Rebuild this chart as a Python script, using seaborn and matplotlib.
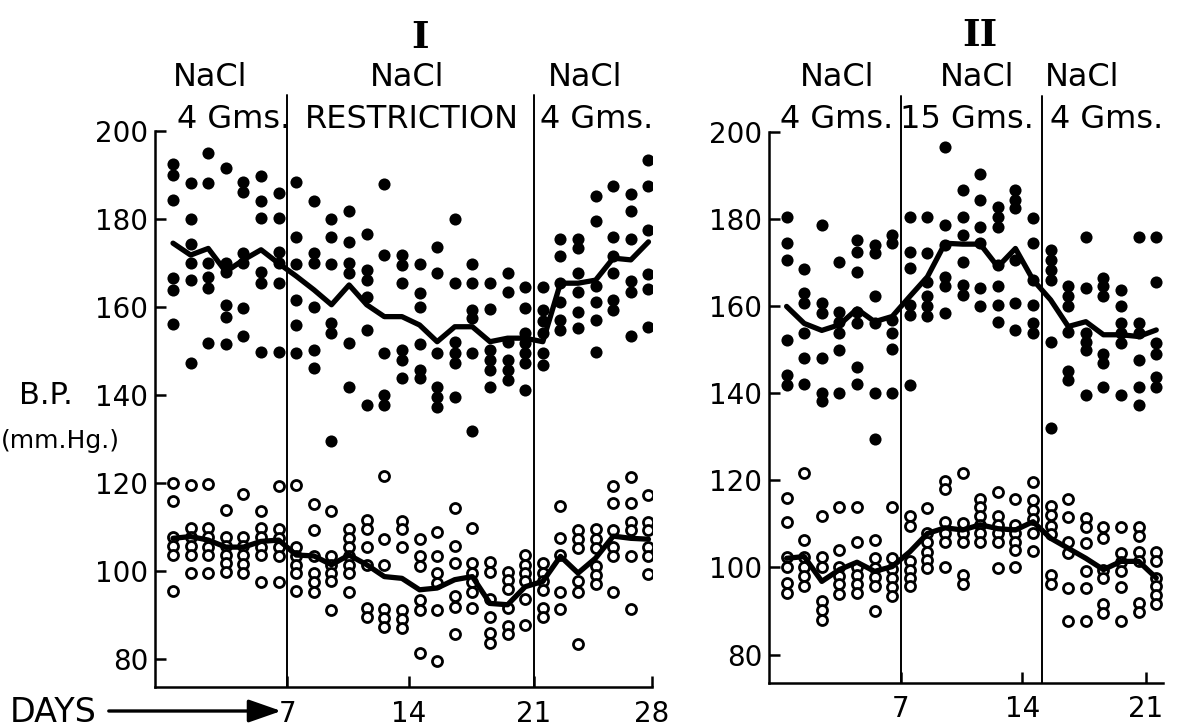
import matplotlib
matplotlib.use("Agg")
import matplotlib.pyplot as plt
import pandas as pd
import seaborn as sns

# ---------------- data (mm Hg, one list per day) ----------------
I_sys = [
    [192.4, 190.0, 184.3, 166.5, 163.9, 156.1],
    [188.1, 180.0, 174.3, 169.9, 166.1, 147.3],
    [194.9, 188.1, 169.9, 166.9, 164.2, 151.9],
    [191.7, 169.9, 168.0, 160.5, 157.8, 151.6],
    [188.5, 186.2, 172.2, 169.9, 159.8, 153.4],
    [189.8, 184.1, 180.2, 168.0, 165.4, 149.7],
    [186.0, 180.2, 172.6, 169.9, 165.5, 149.7],
    [188.3, 176.0, 169.8, 161.6, 155.9, 149.5],
    [184.2, 172.2, 169.9, 159.9, 150.1, 146.1],
    [180.1, 176.0, 169.8, 156.3, 154.0, 129.6],
    [181.9, 174.8, 169.9, 167.7, 151.9, 141.7],
    [176.6, 168.4, 166.1, 162.3, 154.8, 137.7],
    [187.9, 171.8, 149.5, 140.0, 137.7],
    [171.8, 169.5, 165.5, 150.2, 148.0, 143.8],
    [169.8, 163.1, 160.1, 151.6, 145.7, 143.8],
    [173.7, 167.7, 149.5, 141.9, 139.6, 137.3],
    [180.1, 165.5, 152.1, 149.5, 147.2, 139.5],
    [169.8, 165.5, 159.3, 157.4, 149.5, 131.7],
    [165.5, 159.5, 150.2, 148.0, 145.7, 141.9],
    [167.7, 163.5, 152.1, 148.0, 145.7, 143.4],
    [164.5, 159.7, 154.0, 151.7, 149.5, 147.2, 141.1],
    [164.6, 159.3, 156.7, 154.0, 149.5, 146.8],
    [175.4, 171.6, 165.5, 161.2, 157.0, 154.8],
    [175.4, 173.3, 167.7, 163.5, 158.9, 155.2],
    [185.2, 179.6, 164.8, 161.2, 157.0, 149.7],
    [187.5, 176.0, 171.6, 167.7, 161.6, 159.3],
    [185.7, 181.7, 175.5, 165.8, 163.5, 153.3],
    [193.4, 187.5, 177.5, 167.5, 164.0, 155.5],
]
I_sys_mean = [174.5, 171.8, 173.3, 168.0, 170.7, 173.0, 169.9, 167.0, 163.9, 160.5,
              165.0, 160.5, 157.8, 157.8, 155.9, 152.1, 155.5, 155.5, 152.1, 152.9,
              152.9, 152.1, 165.4, 165.4, 166.1, 171.1, 170.7, 174.8]

I_dia = [
    [119.9, 115.9, 107.8, 105.7, 103.6, 95.5],
    [119.5, 109.7, 107.6, 105.7, 103.6, 99.5],
    [119.8, 109.7, 107.6, 105.5, 103.6, 99.5],
    [113.9, 107.6, 105.7, 103.6, 101.7, 99.8],
    [117.5, 107.6, 105.7, 103.6, 101.6, 99.5],
    [113.6, 109.7, 107.6, 105.5, 103.6, 97.4],
    [119.3, 109.5, 107.4, 105.4, 103.3, 97.4],
    [119.5, 105.5, 103.4, 101.4, 99.5, 95.5],
    [115.2, 109.3, 103.4, 99.5, 97.4, 95.3],
    [113.6, 103.4, 101.4, 99.5, 97.6, 91.1],
    [109.5, 107.4, 105.4, 103.3, 101.4, 99.5, 95.3],
    [111.6, 109.5, 105.4, 101.4, 91.5, 89.5],
    [121.6, 107.2, 101.4, 91.3, 89.2, 87.2],
    [111.4, 109.5, 105.4, 91.1, 89.0, 86.9],
    [107.2, 103.3, 101.1, 93.4, 91.1, 81.3],
    [108.9, 103.3, 99.5, 97.2, 91.0, 79.4],
    [114.4, 105.7, 101.7, 94.2, 91.9, 85.6],
    [109.7, 101.7, 99.5, 97.4, 95.3, 91.5],
    [102.1, 99.8, 93.5, 89.6, 85.8, 83.7],
    [99.8, 97.9, 95.8, 91.5, 87.5, 85.6],
    [103.6, 101.4, 99.5, 97.6, 93.6, 87.7],
    [101.7, 99.6, 97.6, 95.7, 91.5, 89.5],
    [114.8, 107.4, 103.6, 95.1, 91.3],
    [109.3, 107.2, 105.2, 97.6, 95.3, 83.4],
    [109.5, 107.2, 105.2, 101.0, 99.1, 97.0],
    [119.2, 115.4, 109.3, 105.5, 103.4, 95.3],
    [121.3, 115.5, 111.2, 109.3, 103.3, 91.3],
    [117.3, 111.2, 109.2, 105.5, 103.3, 99.3],
]
I_dia_mean = [107.4, 107.8, 107.0, 105.4, 105.4, 106.7, 107.0, 103.6, 103.4, 101.4,
              103.6, 101.4, 98.7, 98.3, 95.7, 96.1, 98.0, 98.7, 92.6, 92.3,
              96.4, 97.6, 103.3, 99.5, 102.9, 107.9, 107.4, 107.2]

II_sys = [
    [180.5, 174.4, 170.6, 152.2, 144.2, 141.9],
    [168.4, 162.9, 160.6, 153.7, 148.0, 142.1],
    [178.6, 160.6, 158.3, 148.0, 140.0, 138.1],
    [170.2, 158.7, 156.4, 153.7, 149.9, 140.0],
    [175.2, 172.5, 167.9, 158.7, 156.0, 146.1, 142.1],
    [174.0, 172.1, 162.3, 156.0, 140.0, 129.4],
    [176.3, 174.4, 156.8, 153.7, 150.1, 140.0],
    [180.5, 172.5, 168.7, 160.2, 158.0, 141.9],
    [180.4, 172.1, 165.6, 162.2, 159.9, 157.6],
    [196.6, 178.6, 174.0, 166.7, 164.5, 158.3],
    [186.6, 180.4, 176.3, 170.2, 164.8, 162.5],
    [190.4, 184.3, 178.2, 174.4, 164.1, 159.9],
    [182.8, 180.5, 178.2, 169.4, 164.5, 160.2, 156.4],
    [186.6, 184.3, 182.4, 170.6, 160.6, 154.5],
    [180.1, 174.4, 166.0, 160.2, 156.0, 153.7],
    [172.9, 170.6, 168.3, 166.0, 151.8, 132.0],
    [164.5, 162.2, 159.9, 154.1, 145.0, 143.0],
    [175.9, 164.1, 153.7, 151.8, 149.9, 139.6],
    [166.4, 164.5, 162.2, 149.1, 146.9, 141.5],
    [163.7, 159.9, 156.0, 153.7, 151.5, 139.6],
    [175.9, 156.0, 153.7, 147.7, 141.5, 137.3],
    [175.9, 165.6, 151.5, 149.1, 143.8, 141.5],
]
II_sys_mean = [159.9, 156.0, 154.4, 155.7, 159.3, 156.4, 157.6, 162.2, 166.7, 174.4,
               174.2, 174.2, 169.0, 173.2, 166.0, 161.4, 155.3, 156.4, 153.4, 153.4,
               153.0, 154.5]

II_dia = [
    [115.9, 110.5, 102.5, 100.2, 96.4, 94.2],
    [121.6, 106.3, 102.5, 100.2, 98.0, 95.7],
    [111.8, 102.5, 100.2, 92.3, 90.2, 87.9],
    [113.9, 104.0, 100.2, 98.0, 96.1, 93.9],
    [113.9, 105.8, 100.2, 98.2, 96.2, 94.2],
    [106.3, 102.1, 99.9, 97.7, 95.7, 90.0],
    [113.9, 102.1, 99.7, 97.6, 95.5, 93.4],
    [111.8, 109.5, 101.5, 99.5, 97.6, 95.7],
    [113.6, 108.0, 105.8, 103.6, 101.7, 99.9],
    [119.9, 117.9, 110.5, 108.0, 105.8, 100.2],
    [121.6, 110.1, 108.0, 105.9, 98.3, 96.1],
    [115.8, 113.9, 111.8, 109.8, 108.0, 105.9],
    [117.4, 111.8, 109.8, 107.8, 105.8, 99.9],
    [115.8, 109.8, 107.8, 105.9, 104.0, 100.2],
    [119.7, 115.4, 113.3, 111.2, 108.0, 103.8],
    [114.2, 112.0, 109.5, 107.6, 98.3, 96.1],
    [115.6, 111.6, 105.8, 103.3, 95.2, 87.7],
    [111.4, 109.3, 105.5, 99.2, 95.3, 87.6],
    [109.3, 106.7, 99.5, 97.6, 91.7, 89.6],
    [109.3, 103.3, 101.2, 99.1, 95.5, 87.6],
    [109.3, 107.3, 103.5, 101.5, 91.9, 89.8],
    [103.6, 101.4, 97.6, 95.7, 93.6, 91.5],
]
II_dia_mean = [102.1, 102.5, 96.8, 99.5, 101.2, 99.1, 100.2, 103.6, 107.8, 109.1,
               108.6, 109.8, 108.9, 108.6, 110.5, 106.7, 104.4, 102.1, 99.5, 101.4,
               101.4, 97.6]

y_ticks = [80, 100, 120, 140, 160, 180, 200]
I_xlabels = ["7", "14", "21", "28"]
II_xlabels = ["7", "14", "21"]
I_headers = [("NaCl", "4 Gms."), ("NaCl", "RESTRICTION"), ("NaCl", "4 Gms.")]
II_headers = [("NaCl", "4 Gms."), ("NaCl", "15 Gms."), ("NaCl", "4 Gms.")]

# ---------------- figure ----------------
sns.set_theme(style="white")
plt.rcParams['font.family'] = ['DejaVu Sans']
plt.rcParams['text.color'] = 'black'
plt.rcParams['xtick.color'] = 'black'
plt.rcParams['ytick.color'] = 'black'

W, H = 1181, 727
fig = plt.figure(figsize=(W / 100, H / 100), dpi=100)
fig.patch.set_facecolor('white')


def box(x0, y0, x1, y1):
    return [x0 / W, 1 - y1 / H, (x1 - x0) / W, (y1 - y0) / H]


def fx(x):
    return x / W


def fy(y):
    return 1 - y / H


def to_long(values):
    rows = [(d, v) for d, vals in enumerate(values, start=1) for v in vals]
    return pd.DataFrame(rows, columns=["day", "bp"])


def mean_df(values):
    return pd.DataFrame({"day": range(1, len(values) + 1), "bp": values})


def draw(ax, sys_v, sys_m, dia_v, dia_m, xmax, seps, tick_pos, tick_lab):
    sns.lineplot(data=mean_df(sys_m), x="day", y="bp", ax=ax, color="black",
                 linewidth=3.8, zorder=4)
    sns.lineplot(data=mean_df(dia_m), x="day", y="bp", ax=ax, color="black",
                 linewidth=3.8, zorder=4)
    sns.scatterplot(data=to_long(sys_v), x="day", y="bp", ax=ax, color="black",
                    edgecolor="black", linewidth=0, s=76, zorder=3, legend=False)
    sns.scatterplot(data=to_long(dia_v), x="day", y="bp", ax=ax, color="white",
                    edgecolor="black", linewidth=2.0, s=52, zorder=3, legend=False)
    ax.set_xlim(0, xmax)
    ax.set_ylim(73.6, 200)
    ax.set_yticks(y_ticks)
    ax.set_xticks(tick_pos)
    ax.set_xticklabels(tick_lab)
    ax.set_xlabel("")
    ax.set_ylabel("")
    for s in ["top", "right"]:
        ax.spines[s].set_visible(False)
    for s in ["left", "bottom"]:
        ax.spines[s].set_linewidth(1.8)
        ax.spines[s].set_color("black")
    ax.tick_params(axis="both", which="major", direction="in", length=8,
                   width=1.8, labelsize=20, colors="black",
                   left=True, bottom=True, top=False, right=False)
    ax.tick_params(axis="y", pad=5)
    ax.tick_params(axis="x", pad=9)
    for s in seps:
        ax.axvline(s, ymin=0, ymax=1.065, color="black", lw=1.4, clip_on=False,
                   zorder=2)


axI = fig.add_axes(box(155.4, 131, 652, 687))
axII = fig.add_axes(box(769, 131.7, 1163.3, 682.5))

draw(axI, I_sys, I_sys_mean, I_dia, I_dia_mean, 28.2, [7.5, 21.5],
     [7.5, 14.4, 21.5, 28.2], I_xlabels)
draw(axII, II_sys, II_sys_mean, II_dia, II_dia_mean, 22.4, [7.5, 15.5],
     [7.5, 14.4, 21.4], II_xlabels)

hdr = dict(ha="center", va="center", fontsize=23)
# Panel I headers
fig.text(fx(420), fy(38), "I", ha="center", va="center", fontsize=27,
         family="DejaVu Serif", weight="bold")
for (top, bot), xt, xb in zip(I_headers, [210, 407, 585], [234, 412, 597]):
    fig.text(fx(xt), fy(78), top, **hdr)
    fig.text(fx(xb), fy(119), bot, **hdr)
# Panel II headers
fig.text(fx(980), fy(36), "II", ha="center", va="center", fontsize=27,
         family="DejaVu Serif", weight="bold")
for (top, bot), xt, xb in zip(II_headers, [837, 977, 1082], [837, 967, 1107]):
    fig.text(fx(xt), fy(78), top, **hdr)
    fig.text(fx(xb), fy(119), bot, **hdr)

# y label
fig.text(fx(46), fy(396), "B.P.", ha="center", va="center", fontsize=22)
fig.text(fx(60), fy(441), "(mm.Hg.)", ha="center", va="center", fontsize=18)

# DAYS arrow
fig.text(fx(53), fy(712), "DAYS", ha="center", va="center", fontsize=24)
axI.annotate("", xy=(fx(284), fy(711)), xytext=(fx(106), fy(711)),
             xycoords="figure fraction", textcoords="figure fraction",
             annotation_clip=False,
             arrowprops=dict(arrowstyle="-|>,head_length=1.0,head_width=0.35",
                             lw=2.4, color="black", mutation_scale=20))

fig.savefig("out.png", dpi=100, facecolor="white")
